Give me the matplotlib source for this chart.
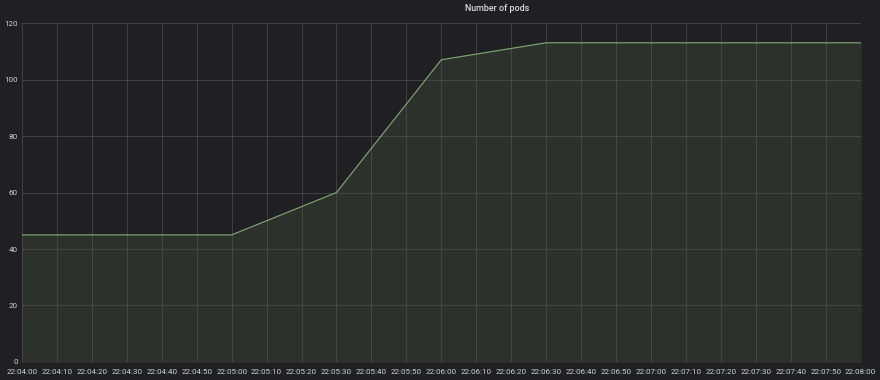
import matplotlib
matplotlib.use("Agg")
import matplotlib.pyplot as plt
import matplotlib.dates as mdates
import pandas as pd

times = ["22:04:00", "22:04:30", "22:05:00", "22:05:30", "22:06:00",
         "22:06:30", "22:07:00", "22:07:30", "22:08:00"]
pods = [45, 45, 45, 60, 107, 113, 113, 113, 113]
y_ticks = [0, 20, 40, 60, 80, 100, 120]
title = "Number of pods"

t = pd.to_datetime(["2020-01-01 " + s for s in times])

bg = "#202024"
fig = plt.figure(figsize=(8.8, 3.8), dpi=100, facecolor=bg)
ax = fig.add_axes([0.025, 0.0474, 0.953, 0.892], facecolor=bg)

ax.fill_between(t, pods, 0, color="#2c312b", zorder=1)
ax.plot(t, pods, color="#7aa96a", lw=0.85, zorder=3)

ax.set_xlim(t[0], t[-1])
ax.set_ylim(0, 120)
ax.set_yticks(y_ticks)
ax.xaxis.set_major_locator(mdates.SecondLocator(bysecond=range(0, 60, 10)))
ax.xaxis.set_major_formatter(mdates.DateFormatter("%H:%M:%S"))

ax.grid(True, color="#5a5a5e", lw=0.6, alpha=0.65, zorder=2)
ax.set_axisbelow(False)
for s in ax.spines.values():
    s.set_visible(False)
ax.tick_params(axis="x", length=0, colors="#cdd1d6", labelsize=5.8, pad=5)
ax.tick_params(axis="y", length=0, colors="#cdd1d6", labelsize=5.8, pad=3)
for lab in ax.get_xticklabels() + ax.get_yticklabels():
    lab.set_fontfamily("Roboto")

fig.text(0.565, 0.978, title, ha="center", va="center", color="#d8d9da",
         fontsize=6.4, fontfamily="Roboto", fontweight="medium")

fig.savefig("out.png", dpi=100, facecolor=bg)
